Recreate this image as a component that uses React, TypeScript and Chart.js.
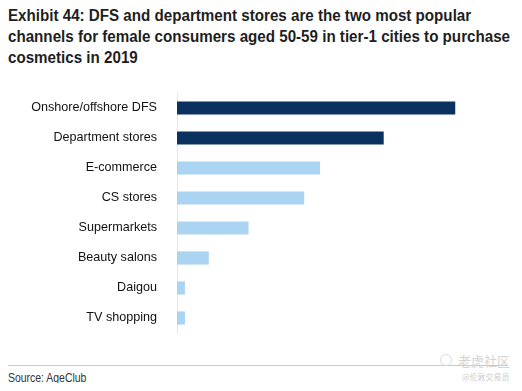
import React, { useEffect, useMemo, useRef } from "react";
import { Chart, registerables } from "chart.js";

Chart.register(...registerables);

const categories = [
  "Onshore/offshore DFS",
  "Department stores",
  "E-commerce",
  "CS stores",
  "Supermarkets",
  "Beauty salons",
  "Daigou",
  "TV shopping",
];
const shares = [35, 26, 18, 16, 9, 4, 1, 1];
const barColors = [
  "#0b3160",
  "#0b3160",
  "#abd3f2",
  "#abd3f2",
  "#abd3f2",
  "#abd3f2",
  "#abd3f2",
  "#abd3f2",
];
const titleLines = [
  "Exhibit 44: DFS and department stores are the two most popular",
  "channels for female consumers aged 50-59 in tier-1 cities to purchase",
  "cosmetics in 2019",
];
const sourceText = "Source: AgeClub";

const sans = "'Liberation Sans', Arial, sans-serif";

function measure(text: string, font: string): number {
  const c = document.createElement("canvas");
  const ctx = c.getContext("2d");
  if (!ctx) return 1;
  ctx.font = font;
  return ctx.measureText(text).width;
}

export default function App() {
  const canvasRef = useRef<HTMLCanvasElement | null>(null);

  const titleScale = useMemo(() => {
    const w = measure(titleLines[1], `bold 16px ${sans}`);
    return w > 0 ? 502 / w : 0.82;
  }, []);
  const sourceScale = useMemo(() => {
    const w = measure(sourceText, `13px ${sans}`);
    return w > 0 ? 79 / w : 0.82;
  }, []);

  useEffect(() => {
    if (!canvasRef.current) return;
    const chart = new Chart(canvasRef.current, {
      type: "bar",
      data: {
        labels: categories,
        datasets: [
          {
            data: shares,
            backgroundColor: barColors,
            borderWidth: 0,
            barPercentage: 0.44,
            categoryPercentage: 1,
          },
        ],
      },
      options: {
        indexAxis: "y",
        animation: false,
        responsive: false,
        devicePixelRatio: 1,
        layout: { padding: { top: 5, bottom: 5, left: 0, right: 19 } },
        plugins: {
          legend: { display: false },
          tooltip: { enabled: false },
          title: { display: false },
        },
        scales: {
          x: { display: false, min: 0, max: 40 },
          y: {
            grid: { display: false },
            border: { display: true, color: "#ece4e0", width: 1 },
            ticks: {
              color: "#111111",
              padding: 12,
              font: { family: sans, size: 12.6 },
            },
            afterFit: (scale: any) => {
              scale.width = 169;
              scale.paddingTop = 0;
              scale.paddingBottom = 0;
            },
          },
        },
      },
    });
    return () => chart.destroy();
  }, []);

  return (
    <div style={{ position: "relative", width: 506, height: 375, background: "#fff" }}>
      <div
        style={{
          position: "absolute",
          top: -3,
          left: 0,
          fontFamily: sans,
          fontWeight: "bold",
          fontSize: 16,
          lineHeight: "21px",
          color: "#1e1e1e",
          whiteSpace: "nowrap",
          transform: `scaleX(${titleScale})`,
          transformOrigin: "0 0",
        }}
      >
        {titleLines.map((l, i) => (
          <div key={i}>{l}</div>
        ))}
      </div>
      <div style={{ position: "absolute", top: 80, left: 0, width: 506, height: 250 }}>
        <canvas ref={canvasRef} width={506} height={250} style={{ display: "block", width: 506, height: 250 }} />
      </div>
      <div
        style={{
          position: "absolute",
          top: 357,
          left: 0,
          width: 500,
          height: 0,
          borderTop: "1.5px solid #c8c8c8",
        }}
      />
      <div
        style={{
          position: "absolute",
          top: 362,
          left: 0,
          fontFamily: sans,
          fontSize: 13,
          color: "#333",
          whiteSpace: "nowrap",
          transform: `scaleX(${sourceScale})`,
          transformOrigin: "0 0",
        }}
      >
        {sourceText}
      </div>
      <div
        style={{
          position: "absolute",
          top: 346,
          left: 432,
          width: 12,
          height: 12,
          borderRadius: "50%",
          border: "1.5px solid #dadada",
          boxSizing: "border-box",
        }}
      />
      <div
        style={{
          position: "absolute",
          top: 343,
          left: 450,
          fontFamily: "'Noto Sans CJK SC', sans-serif",
          fontSize: 13,
          lineHeight: "19px",
          color: "#d4d4d4",
          whiteSpace: "nowrap",
        }}
      >
        老虎社区
      </div>
      <div
        style={{
          position: "absolute",
          top: 363,
          left: 454,
          fontFamily: "'Noto Sans CJK SC', sans-serif",
          fontSize: 8,
          lineHeight: "12px",
          color: "#cccccc",
          whiteSpace: "nowrap",
        }}
      >
        @伦敦交易员
      </div>
    </div>
  );
}
